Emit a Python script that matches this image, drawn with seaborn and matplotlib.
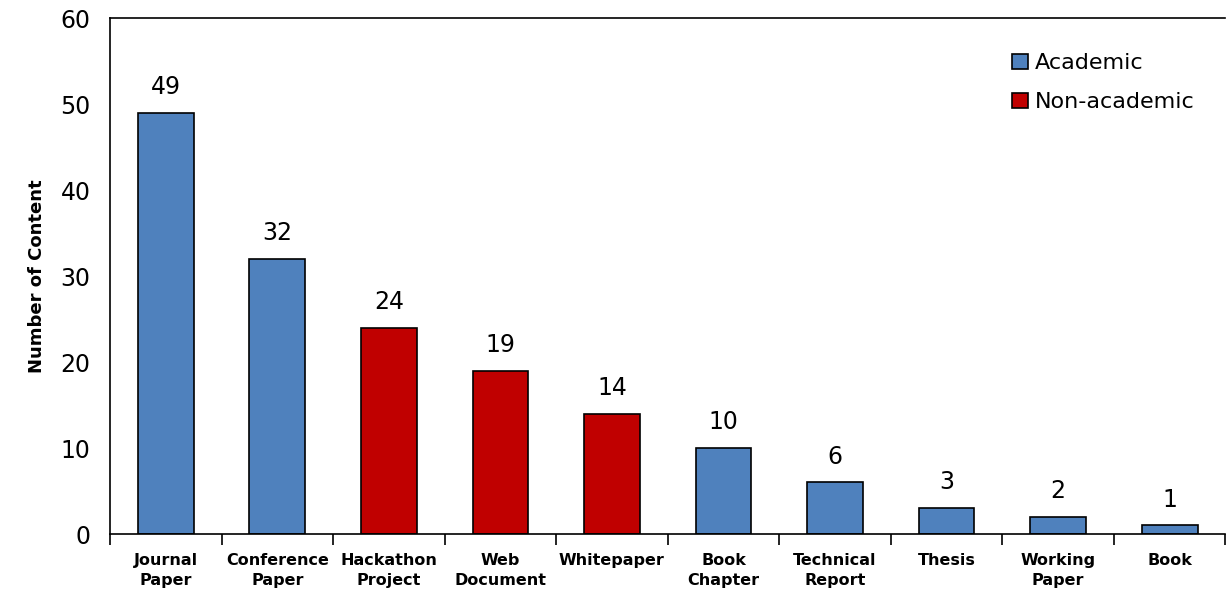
import matplotlib
matplotlib.use("Agg")
import matplotlib.pyplot as plt
from matplotlib.patches import Patch
import seaborn as sns
import pandas as pd
import numpy as np

categories = ["Journal\nPaper", "Conference\nPaper", "Hackathon\nProject", "Web\nDocument",
              "Whitepaper", "Book\nChapter", "Technical\nReport", "Thesis",
              "Working\nPaper", "Book"]
counts = [49, 32, 24, 19, 14, 10, 6, 3, 2, 1]
kinds = ["Academic", "Academic", "Non-academic", "Non-academic", "Non-academic",
         "Academic", "Academic", "Academic", "Academic", "Academic"]

palette = {"Academic": "#4F81BD", "Non-academic": "#C00000"}

sns.set_style("white")
plt.rcParams["font.family"] = ["DejaVu Sans"]
plt.rcParams["text.color"] = "black"
plt.rcParams["axes.labelcolor"] = "black"
plt.rcParams["xtick.color"] = "black"
plt.rcParams["ytick.color"] = "black"

df = pd.DataFrame({"category": categories, "count": counts, "kind": kinds})

fig = plt.figure(figsize=(12.26, 5.92), dpi=100)
ax = fig.add_axes([110 / 1226, 1 - 534 / 592, 1 - 110 / 1226 - 0.0005, (534 - 18) / 592])

sns.barplot(data=df, x="category", y="count", hue="kind", palette=palette,
            dodge=False, width=0.5, edgecolor="black", linewidth=1.2,
            saturation=1, legend=False, ax=ax)

for i, v in enumerate(counts):
    ax.text(i, v + 1.6, str(v), ha="center", va="bottom", fontsize=17, color="black")

ax.set_xlim(-0.5, len(categories) - 0.5)
ax.set_ylim(0, 60)
ax.set_yticks(np.arange(0, 61, 10))
ax.tick_params(axis="y", labelsize=17, length=0, pad=14, labelcolor="black")
ax.set_xticks(range(len(categories)))
ax.set_xticklabels(categories, fontsize=11.5, fontweight="bold", linespacing=1.4, color="black")
ax.tick_params(axis="x", which="major", bottom=False, length=0, pad=14)
ax.set_xticks(np.arange(-0.5, len(categories), 1), minor=True)
ax.tick_params(axis="x", which="minor", bottom=True, length=8, width=1.2,
               color="black", direction="out")
ax.set_xlabel("")
ax.set_ylabel("Number of Content", fontsize=13, fontweight="bold", labelpad=10, color="black")

for side in ["left", "bottom", "top"]:
    ax.spines[side].set_visible(True)
    ax.spines[side].set_color("black")
    ax.spines[side].set_linewidth(1.2)
ax.spines["right"].set_visible(False)

handles = [Patch(facecolor=palette[k], edgecolor="black", linewidth=1.2, label=k)
           for k in ["Academic", "Non-academic"]]
leg = ax.legend(handles=handles, loc="upper right", bbox_to_anchor=(0.99, 0.97), frameon=False,
                fontsize=16, handlelength=0.7, handleheight=0.7, handletextpad=0.3,
                labelspacing=0.85)
for t in leg.get_texts():
    t.set_color("black")

fig.savefig("out.png", dpi=100)
